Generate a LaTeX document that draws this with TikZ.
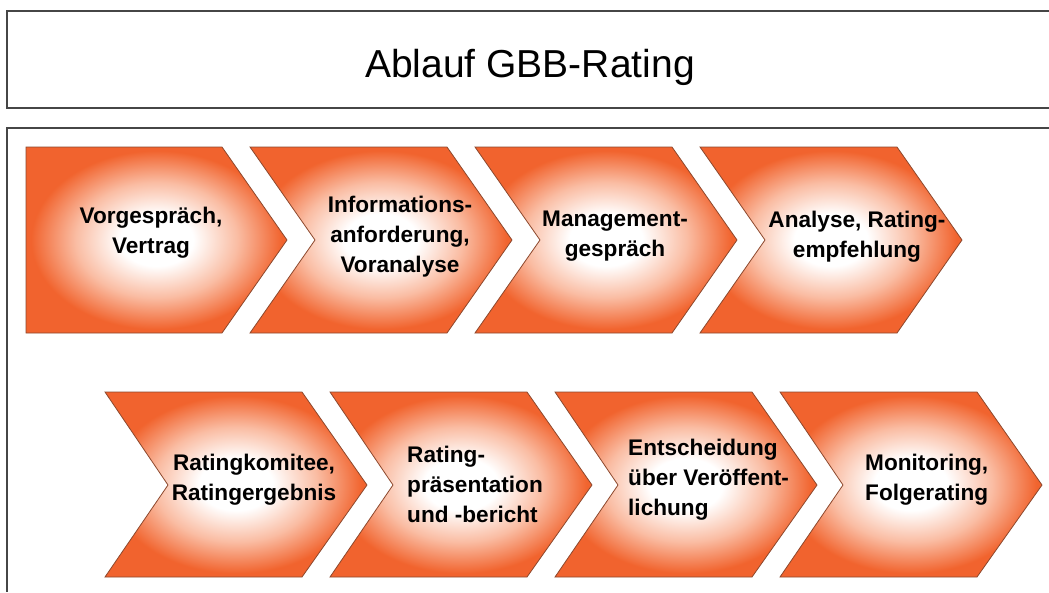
\documentclass[tikz,border=0pt]{standalone}
\usepackage{fontspec}
\setmainfont{Liberation Sans}
\usepackage{tikz}

\definecolor{chevline}{RGB}{140,72,45}
\definecolor{boxline}{RGB}{70,70,70}
\pgfdeclareradialshading{chevshade}{\pgfpoint{0bp}{0bp}}{rgb(0bp)=(1,1,1); rgb(7bp)=(1,1,1); rgb(15.5bp)=(0.98,0.74,0.64); rgb(24bp)=(0.945,0.39,0.18); rgb(100bp)=(0.945,0.39,0.18)}

\begin{document}
\begin{tikzpicture}[x=1pt,y=-1pt,
  chev/.style={draw=chevline,line width=0.8pt,shading=chevshade},
  lbl/.style={inner sep=0pt,font=\fontsize{22.6}{30}\selectfont\bfseries}]
\useasboundingbox (0,0) rectangle (1049,592);

% title and frame
\draw[boxline,line width=1.2pt] (1049,11) -- (7,11) -- (7,108) -- (1049,108);
\node[anchor=base,font=\fontsize{39}{44}\selectfont] (titel) at (530,77) {Ablauf GBB-Rating};
\draw[boxline,line width=1.2pt] (1049,128) -- (7,128) -- (7,592);

% first row
\draw[chev] (26,147) -- (222,147) -- (287,240) -- (222,333) -- (26,333) -- cycle;
\foreach \x in {250,475,700}
  \draw[chev] (\x,147) -- ++(197,0) -- ++(65,93) -- ++(-65,93) -- ++(-197,0) -- ++(65,-93) -- cycle;

% second row
\foreach \x in {105,330,555,780}
  \draw[chev] (\x,392) -- ++(197,0) -- ++(65,93) -- ++(-65,92) -- ++(-197,0) -- ++(63,-92) -- cycle;

\node[lbl,anchor=north,align=center] (vorgespraech) at (151,207) {Vorgespräch,\\Vertrag};
\node[lbl,anchor=north,align=center] (information) at (400,196) {Informations-\\anforderung,\\Voranalyse};
\node[lbl,anchor=north,align=center] (management) at (615,211) {Management-\\gespräch};
\node[lbl,anchor=north,align=center] (analyse) at (857,211) {Analyse, Rating-\\empfehlung};

\node[lbl,anchor=north,align=center] (komitee) at (254,454) {Ratingkomitee,\\Ratingergebnis};
\node[lbl,anchor=north west,align=left] (praesentation) at (407,446) {Rating-\\präsentation\\und -bericht};
\node[lbl,anchor=north west,align=left] (entscheidung) at (628,439) {Entscheidung\\über Veröffent-\\lichung};
\node[lbl,anchor=north west,align=left] (monitoring) at (865,454) {Monitoring,\\Folgerating};

\end{tikzpicture}
\end{document}
